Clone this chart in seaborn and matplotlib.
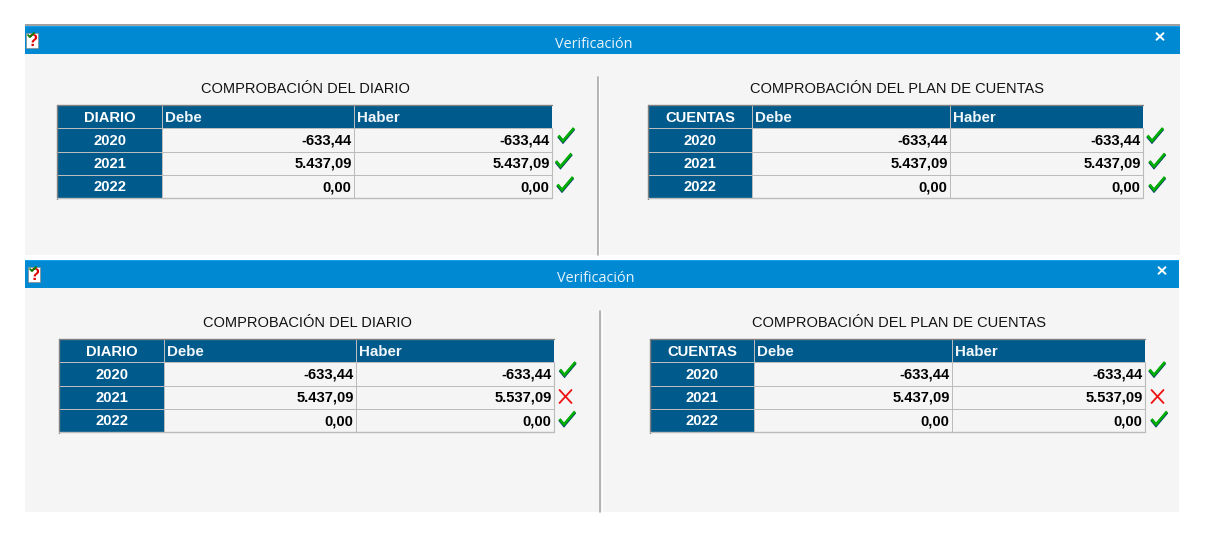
import numpy as np
import matplotlib
matplotlib.use("Agg")
import matplotlib.pyplot as plt
from matplotlib.colors import ListedColormap
from matplotlib.patches import Rectangle
import seaborn as sns

W, H = 1208, 550
years = ["2020", "2021", "2022"]
columns = ["Debe", "Haber"]
window_title = "Verificación"
title_diario = "COMPROBACIÓN DEL DIARIO"
title_cuentas = "COMPROBACIÓN DEL PLAN DE CUENTAS"

debe_top = ["-633,44", "5.437,09", "0,00"]
haber_top = ["-633,44", "5.437,09", "0,00"]
debe_bottom = ["-633,44", "5.437,09", "0,00"]
haber_bottom = ["-633,44", "5.537,09", "0,00"]
status_top = [True, True, True]
status_bottom = [True, False, True]

HEADER = "#005a8c"
CELL = "#f5f5f5"
BAR = "#0089d3"
GRID = "#bcbcbc"
cmap = ListedColormap([CELL, HEADER])

sns.set_theme(style="white")
plt.rcParams["font.family"] = ["Liberation Sans", "DejaVu Sans"]

fig = plt.figure(figsize=(W / 100, H / 100), dpi=100, facecolor="white")
bg = fig.add_axes([0, 0, 1, 1], zorder=0)
bg.set_xlim(0, W); bg.set_ylim(H, 0); bg.axis("off")
top = fig.add_axes([0, 0, 1, 1], zorder=10)
top.set_xlim(0, W); top.set_ylim(H, 0); top.axis("off"); top.patch.set_alpha(0)


def column(x0, x1, y_edges, header, rows, dark, align):
    ax = fig.add_axes([x0 / W, 1 - y_edges[-1] / H, (x1 - x0) / W, (y_edges[-1] - y_edges[0]) / H], zorder=5)
    mask = np.array([[1]] + [[1 if dark else 0] for _ in rows])
    sns.heatmap(mask, cmap=cmap, vmin=0, vmax=1, cbar=False, linewidths=0.55, linecolor=GRID,
                xticklabels=False, yticklabels=False, ax=ax)
    labels = [header] + rows
    for i, label in enumerate(labels):
        if align == "center":
            ax.text(0.5, i + (0.56 if i == 0 else 0.53), label, ha="center", va="center", color="white",
                    fontsize=10.6, fontweight="bold")
        elif i == 0:
            ax.text(3.5 / (x1 - x0), i + 0.56, label, ha="left", va="center", color="#f0f6fa",
                    fontsize=10.9, fontweight="bold")
        else:
            ax.text(1 - 2.3 / (x1 - x0), i + 0.53, label, ha="right", va="center", color="black",
                    fontsize=10.6, fontweight="bold")


def check(x, y):
    for dy, c, lw in [(0.8, "#003070", 2.2), (0, "#00b000", 1.9)]:
        top.plot(np.array([x - 7.5, x - 3, x + 8]), np.array([y + 1, y + 6.5, y - 6.5]) + dy,
                 color=c, lw=lw, solid_capstyle="butt", solid_joinstyle="miter")


def cross(x, y):
    top.plot([x - 6, x + 6], [y - 6.5, y + 6.5], color="#f01010", lw=1.3)
    top.plot([x - 6, x + 6], [y + 6.5, y - 6.5], color="#f01010", lw=1.3)


def table(x_edges, y0, head, debe, haber, status, marks_x, marks_y):
    y_edges = [y0, y0 + 93]
    column(x_edges[0], x_edges[1], y_edges, head, years, True, "center")
    column(x_edges[1], x_edges[2], y_edges, columns[0], debe, False, "right")
    column(x_edges[2], x_edges[3], y_edges, columns[1], haber, False, "right")
    top.plot([x_edges[0], x_edges[3]], [y0 - 0.2, y0 - 0.2], color="#808080", lw=1.0)
    top.plot([x_edges[0], x_edges[0]], [y0, y0 + 94], color="#808080", lw=1.0)
    top.plot([x_edges[0], x_edges[3]], [y0 + 92.6, y0 + 92.6], color=GRID, lw=1.0)
    top.plot([x_edges[3] - 0.5, x_edges[3] - 0.5], [y0 + 23, y0 + 93], color=GRID, lw=0.8)
    for ok, mx, my in zip(status, marks_x, marks_y):
        (check if ok else cross)(mx, my)


def window(x0, x1, y0, bar_h, y1, tx, divider_x, title_y, icon_x, close_x):
    bg.add_patch(Rectangle((x0, y0 + bar_h), x1 - x0, y1 - y0 - bar_h, fc=CELL, ec="none"))
    bg.add_patch(Rectangle((x0, y0), x1 - x0, bar_h, fc=BAR, ec="none"))
    bg.add_patch(Rectangle((x0, y0), x1 - x0, 1, fc="#14a0ee", ec="none"))
    bg.text(tx, y0 + bar_h / 2 + 4.5, window_title, family="Open Sans", fontsize=10.4, color="#e8f4fb",
            ha="center", va="center")
    cy = y0 + 10.5
    for s in (-1, 1):
        bg.plot([close_x - 3.5, close_x + 3.5], [cy - s * 3.3, cy + s * 3.3], color="white", lw=1.4)
    iy = y0 + bar_h / 2
    bg.add_patch(Rectangle((icon_x - 6, iy - 7), 12, 15, fc="white", ec="#888888", lw=0.5, zorder=3))
    bg.text(icon_x + 0.5, iy + 1.5, "?", color="#e00000", fontsize=12, fontweight="bold",
            ha="center", va="center", zorder=4)
    bg.plot([icon_x - 4, icon_x - 2, icon_x + 2], [iy - 5, iy - 3, iy - 7], color="#008000", lw=1.3, zorder=5)
    bg.plot([divider_x, divider_x], [title_y - 11, y1], color="#a8a8a8", lw=1.2)
    bg.plot([divider_x + 1.5, divider_x + 1.5], [title_y - 11, y1], color="white", lw=0.8)


bg.add_patch(Rectangle((25, 23.5), 1155, 2.5, fc="#a0a0a0", ec="none"))
window(25, 1180, 26, 28, 255, 594, 597.5, 88, 32, 1160)
window(25, 1179, 260, 28, 512, 596, 600, 322, 34, 1162)

tkw = dict(fontsize=10.5, color="#111111", ha="center", va="center")
bg.text(305, 89, title_diario, **tkw)
bg.text(897, 89, title_cuentas, **tkw)
bg.text(307, 323, title_diario, **tkw)
bg.text(899, 323, title_cuentas, **tkw)

table([57, 162, 354, 552], 105, "DIARIO", debe_top, haber_top, status_top,
      [566, 563.5, 565], [134.5, 160, 183.5])
table([648, 752, 950, 1143], 105, "CUENTAS", debe_top, haber_top, status_top,
      [1155, 1157, 1157], [134.5, 160, 183.5])
table([59, 164, 356, 554], 339, "DIARIO", debe_bottom, haber_bottom, status_bottom,
      [567.5, 565.5, 567], [368.5, 396.5, 418])
table([650, 754, 952, 1145], 339, "CUENTAS", debe_bottom, haber_bottom, status_bottom,
      [1157, 1157.5, 1159], [368.5, 396.5, 418])

fig.savefig("out.png", dpi=100, facecolor="white")
